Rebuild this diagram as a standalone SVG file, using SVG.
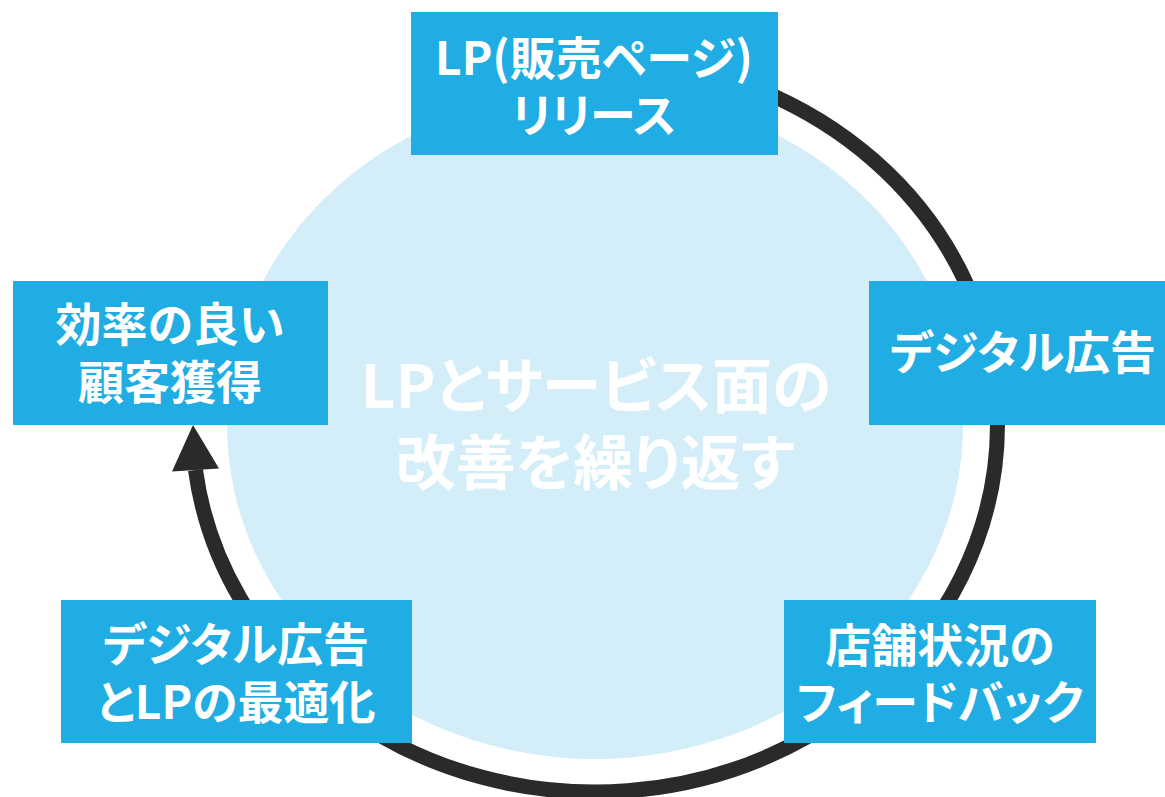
<svg xmlns="http://www.w3.org/2000/svg" width="1165" height="797" viewBox="0 0 1165 797">
<style>
.box{fill:#1FADE3}
.t{fill:#FFFFFF;font-family:"Noto Sans CJK JP","Noto Sans",sans-serif;font-weight:700;font-size:46px;text-anchor:middle;font-feature-settings:"palt"}
.c{font-size:60px}
.ring{fill:none;stroke:#2A2A2A;stroke-width:15}
</style>
<rect width="1165" height="797" fill="#FFFFFF"/>
<g id="center">
<ellipse cx="595" cy="425" rx="368" ry="334" fill="#D4EEF9"/>
<text class="t c" x="596" y="408">LPとサービス面の</text>
<text class="t c" x="595" y="485">改善を繰り返す</text>
</g>
<g id="connectors">
<path class="ring" d="M 595 58 A 402.5 367 0 1 1 195.5 470"/>
<polygon points="193,425 219,468.4 172,471.6" fill="#2A2A2A"/>
</g>
<g id="node-lp">
<rect class="box" x="411" y="12" width="367" height="143"/>
<text class="t" x="594" y="75">LP(販売ページ)</text>
<text class="t" x="594" y="132">リリース</text>
</g>
<g id="node-ad">
<rect class="box" x="869" y="281" width="315" height="144"/>
<text class="t" x="1023" y="369">デジタル広告</text>
</g>
<g id="node-feedback">
<rect class="box" x="784" y="600" width="312" height="143"/>
<text class="t" x="940" y="662">店舗状況の</text>
<text class="t" x="940" y="719">フィードバック</text>
</g>
<g id="node-optimize">
<rect class="box" x="61" y="600" width="351" height="143"/>
<text class="t" x="236" y="661">デジタル広告</text>
<text class="t" x="236" y="719">とLPの最適化</text>
</g>
<g id="node-acquire">
<rect class="box" x="13" y="281" width="315" height="144"/>
<text class="t" x="170" y="341">効率の良い</text>
<text class="t" x="170" y="399">顧客獲得</text>
</g>
</svg>
